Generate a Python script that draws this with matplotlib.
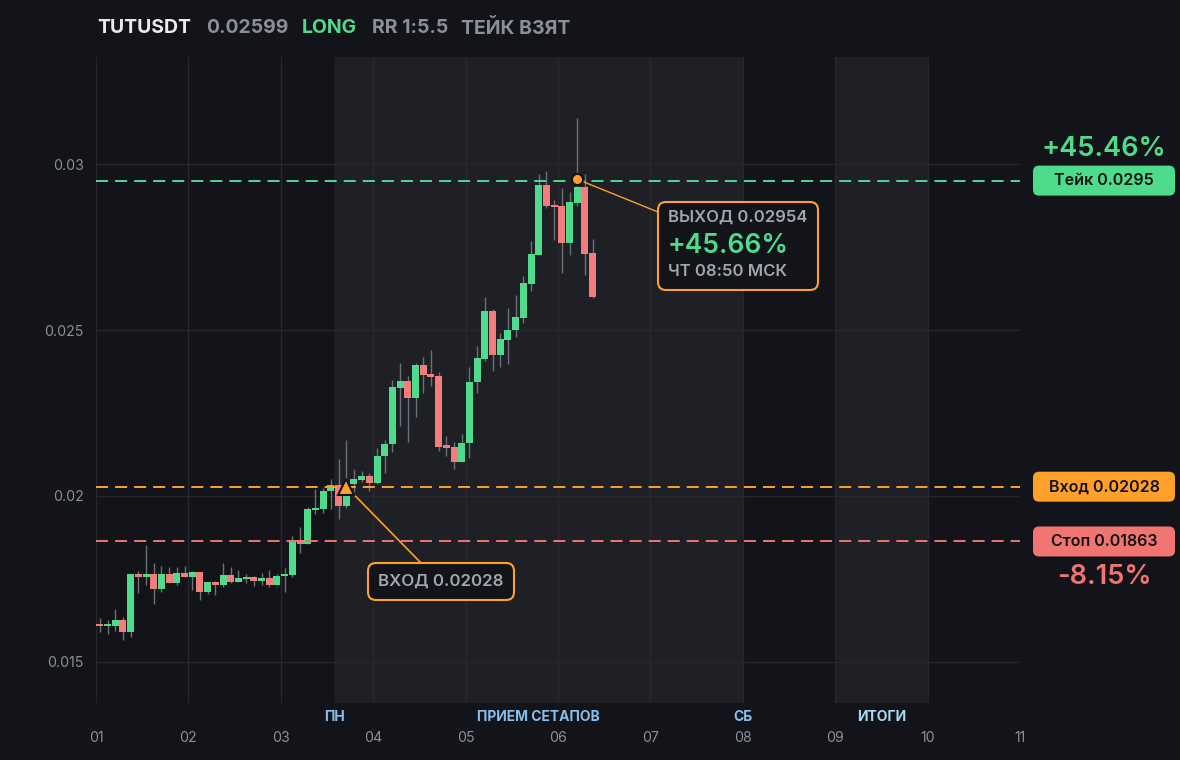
import numpy as np
import pandas as pd
import matplotlib
matplotlib.use('Agg')
import matplotlib.pyplot as plt
import matplotlib.dates as mdates
from matplotlib.patches import FancyBboxPatch

plt.rcParams['font.family'] = ['Inter', 'DejaVu Sans']

# 2h candles, TUTUSDT
opens = [0.01612, 0.01607, 0.01609, 0.01627, 0.01591, 0.01765, 0.01757, 0.01765, 0.01720, 0.01765,
         0.01739, 0.01768, 0.01757, 0.01771, 0.01712, 0.01741, 0.01733, 0.01762, 0.01741, 0.01750,
         0.01756, 0.01744, 0.01753, 0.01732, 0.01759, 0.01762, 0.01868, 0.01855, 0.01957, 0.01960,
         0.02015, 0.02033, 0.01970, 0.02036, 0.02048, 0.02060, 0.02039, 0.02120, 0.02156, 0.02326,
         0.02346, 0.02296, 0.02395, 0.02368, 0.02361, 0.02151, 0.02148, 0.02103, 0.02160, 0.02342,
         0.02414, 0.02557, 0.02426, 0.02471, 0.02500, 0.02537, 0.02640, 0.02727, 0.02937, 0.02877,
         0.02873, 0.02763, 0.02883, 0.02931, 0.02732]
highs = [0.01632, 0.01627, 0.01660, 0.01636, 0.01765, 0.01774, 0.01852, 0.01798, 0.01789, 0.01786,
         0.01786, 0.01789, 0.01774, 0.01771, 0.01741, 0.01744, 0.01797, 0.01787, 0.01777, 0.01765,
         0.01759, 0.01767, 0.01777, 0.01765, 0.01782, 0.01880, 0.01906, 0.01966, 0.02020, 0.02023,
         0.02050, 0.02111, 0.02169, 0.02081, 0.02075, 0.02068, 0.02145, 0.02169, 0.02349, 0.02400,
         0.02360, 0.02400, 0.02420, 0.02440, 0.02373, 0.02181, 0.02163, 0.02187, 0.02390, 0.02452,
         0.02598, 0.02562, 0.02492, 0.02566, 0.02605, 0.02663, 0.02768, 0.02970, 0.02979, 0.02892,
         0.02928, 0.02916, 0.03139, 0.02970, 0.02773]
lows = [0.01591, 0.01584, 0.01593, 0.01566, 0.01576, 0.01709, 0.01732, 0.01675, 0.01712, 0.01737,
        0.01732, 0.01757, 0.01717, 0.01687, 0.01705, 0.01702, 0.01727, 0.01737, 0.01741, 0.01737,
        0.01729, 0.01732, 0.01727, 0.01732, 0.01712, 0.01757, 0.01827, 0.01855, 0.01946, 0.01948,
        0.01960, 0.01930, 0.01965, 0.02013, 0.02043, 0.02016, 0.02036, 0.02070, 0.02133, 0.02212,
        0.02164, 0.02237, 0.02309, 0.02331, 0.02136, 0.02120, 0.02082, 0.02103, 0.02115, 0.02311,
        0.02408, 0.02377, 0.02390, 0.02398, 0.02480, 0.02522, 0.02618, 0.02725, 0.02868, 0.02771,
        0.02673, 0.02727, 0.02873, 0.02667, 0.02597]
closes = [0.01607, 0.01612, 0.01627, 0.01591, 0.01765, 0.01757, 0.01765, 0.01720, 0.01765, 0.01739,
          0.01768, 0.01757, 0.01771, 0.01712, 0.01741, 0.01732, 0.01762, 0.01741, 0.01753, 0.01757,
          0.01744, 0.01753, 0.01732, 0.01759, 0.01765, 0.01868, 0.01855, 0.01960, 0.01963, 0.02015,
          0.02033, 0.01970, 0.02003, 0.02051, 0.02060, 0.02039, 0.02120, 0.02156, 0.02328, 0.02346,
          0.02296, 0.02395, 0.02364, 0.02359, 0.02148, 0.02146, 0.02103, 0.02160, 0.02343, 0.02415,
          0.02557, 0.02426, 0.02472, 0.02500, 0.02539, 0.02642, 0.02729, 0.02937, 0.02874, 0.02871,
          0.02763, 0.02886, 0.02931, 0.02730, 0.02599]

start_time = '2025-03-01 01:00'
take_price = 0.0295
entry_price = 0.02028
stop_price = 0.01863
exit_price = 0.02954
entry_idx = 32
exit_idx = 62
take_pct = '+45.46%'
stop_pct = '-8.15%'
exit_pct = '+45.66%'
exit_time = 'ЧТ 08:50 МСК'

y_ticks = [0.015, 0.02, 0.025, 0.03]
y_tick_labels = ['0.015', '0.02', '0.025', '0.03']
day_labels = ['01', '02', '03', '04', '05', '06', '07', '08', '09', '10', '11']
sessions = [('2025-03-03 13:50', '2025-03-08 00:00'), ('2025-03-09 00:00', '2025-03-10 00:00')]

BG = '#131419'
SHADE = '#1f2025'
GRID = '#27282e'
GREEN = '#4edb8c'
RED = '#f47c7a'
ORANGE = '#ffa02b'
SALMON = '#f07470'
GRAY = '#8d8f96'
WICK = '#6e7077'

W, H = 1180, 760
fig = plt.figure(figsize=(W / 100, H / 100), dpi=100, facecolor=BG)
ax = fig.add_axes([96 / W, 1 - 703 / H, 924 / W, 646 / H], facecolor=BG)

o = np.array(opens); hi = np.array(highs); lo = np.array(lows); c = np.array(closes)
t = mdates.date2num(pd.date_range(start_time, periods=len(o), freq='2h'))
cols = [GREEN if cc >= oo else RED for oo, cc in zip(o, c)]

for s, e in sessions:
    ax.axvspan(mdates.date2num(pd.Timestamp(s)), mdates.date2num(pd.Timestamp(e)),
               color=SHADE, lw=0, zorder=0)

ax.vlines(t, lo, hi, color=WICK, lw=1, zorder=2)
ax.bar(t, np.maximum(np.abs(c - o), 0.00007), bottom=np.minimum(o, c),
       width=2 / 24 * 0.92, color=cols, lw=0, zorder=3)

dash = (0, (6.2, 3.6))
ax.axhline(take_price, color=GREEN, lw=1.4, ls=dash, zorder=4)
ax.axhline(entry_price, color=ORANGE, lw=1.4, ls=dash, zorder=4)
ax.axhline(stop_price, color=SALMON, lw=1.4, ls=dash, zorder=4)

ax.plot(t[entry_idx], entry_price, marker='^', ms=11, color=ORANGE, mec=BG, mew=1.5, zorder=6)
ax.plot(t[exit_idx], exit_price, marker='o', ms=8, color=ORANGE, mec=BG, mew=1.5, zorder=6)

days = pd.date_range('2025-03-01', periods=len(day_labels), freq='D')
ax.set_xlim(mdates.date2num(days[0]), mdates.date2num(days[-1]))
ax.set_ylim(0.013765, 0.033223)
ax.set_xticks(mdates.date2num(days))
ax.set_xticklabels(day_labels)
ax.set_yticks(y_ticks)
ax.set_yticklabels(y_tick_labels)
ax.tick_params(axis='x', length=0, pad=20, labelsize=10.2, labelcolor=GRAY)
ax.tick_params(axis='y', length=0, pad=9, labelsize=10.2, labelcolor=GRAY)
ax.grid(color=GRID, lw=1, zorder=1)
ax.set_axisbelow(True)
for sp in ax.spines.values():
    sp.set_visible(False)

# session labels under the axis
xt = ax.get_xaxis_transform()
s1a, s1b = [mdates.date2num(pd.Timestamp(v)) for v in sessions[0]]
s2a, s2b = [mdates.date2num(pd.Timestamp(v)) for v in sessions[1]]
for xv, lab, col in [(s1a, 'ПН', '#86bff0'), ((s1a + s1b) / 2, 'ПРИЕМ СЕТАПОВ', '#86bff0'),
                     (s1b, 'СБ', '#86bff0'), ((s2a + s2b) / 2, 'ИТОГИ', '#a6dcf6')]:
    ax.text(xv, -0.0217, lab, transform=xt, ha='center', va='center', color=col,
            fontsize=10, fontweight='bold')


def ftext(x, y, s, **kw):
    fig.text(x / W, 1 - y / H, s, **kw)


def rbox(x, y, w, h, fc, ec='none', r=8, lw=1.5):
    p = FancyBboxPatch((x / 100, (H - y - h) / 100), w / 100, h / 100,
                       boxstyle=f'round,pad=0,rounding_size={r / 100}',
                       transform=fig.dpi_scale_trans, fc=fc, ec=ec, lw=lw, zorder=10)
    fig.add_artist(p)


# title
ftext(97, 28, 'TUTUSDT', color='#e9eaee', fontsize=14, fontweight='bold', va='center')
ftext(206, 28, f'{closes[-1]:.5f}', color=GRAY, fontsize=14, fontweight='bold', va='center')
ftext(302, 28, 'LONG', color=GREEN, fontsize=14, fontweight='bold', va='center')
ftext(372, 28, 'RR 1:5.5', color=GRAY, fontsize=14, fontweight='bold', va='center')
ftext(461, 28, 'ТЕЙК ВЗЯТ', color=GRAY, fontsize=14, fontweight='bold', va='center')

# entry annotation
rbox(368, 563, 146, 37, BG, ORANGE)
ftext(441, 581, f'ВХОД {entry_price:.5f}', color='#a4a6ad', fontsize=12.2,
      fontweight='semibold', ha='center', va='center', zorder=11)
ax.annotate('', xy=(t[entry_idx], entry_price), xytext=(421, H - 563), textcoords='figure pixels',
            arrowprops=dict(arrowstyle='-', color=ORANGE, lw=1.2, shrinkA=0, shrinkB=7))

# exit annotation
rbox(658, 202, 160, 88, BG, ORANGE)
ftext(668, 217, f'ВЫХОД {exit_price:.5f}', color='#a4a6ad', fontsize=12,
      fontweight='semibold', va='center', zorder=11)
ftext(668, 246, exit_pct, color=GREEN, fontsize=19, fontweight='semibold', va='center', zorder=11)
ftext(668, 271, exit_time, color='#a4a6ad', fontsize=12, fontweight='semibold',
      va='center', zorder=11)
ax.annotate('', xy=(t[exit_idx], exit_price), xytext=(658, H - 212), textcoords='figure pixels',
            arrowprops=dict(arrowstyle='-', color=ORANGE, lw=1.0, shrinkA=0, shrinkB=4))


# right side tags
def tag(price, label, fc):
    yc = H - ax.transData.transform((0, price))[1]
    rbox(1033, yc - 15, 142, 30, fc, r=6)
    ftext(1104, yc, label, color='#111216', fontsize=11.6, fontweight='semibold',
          ha='center', va='center', zorder=11)
    return yc


yt = tag(take_price, f'Тейк {take_price}', GREEN)
tag(entry_price, f'Вход {entry_price:.5f}', ORANGE)
ys = tag(stop_price, f'Стоп {stop_price:.5f}', SALMON)
ftext(1104, yt - 32, take_pct, color=GREEN, fontsize=19.5, fontweight='semibold',
      ha='center', va='center')
ftext(1104, ys + 36, stop_pct, color=SALMON, fontsize=19.5, fontweight='semibold',
      ha='center', va='center')

fig.savefig('out.png', dpi=100, facecolor=BG)
